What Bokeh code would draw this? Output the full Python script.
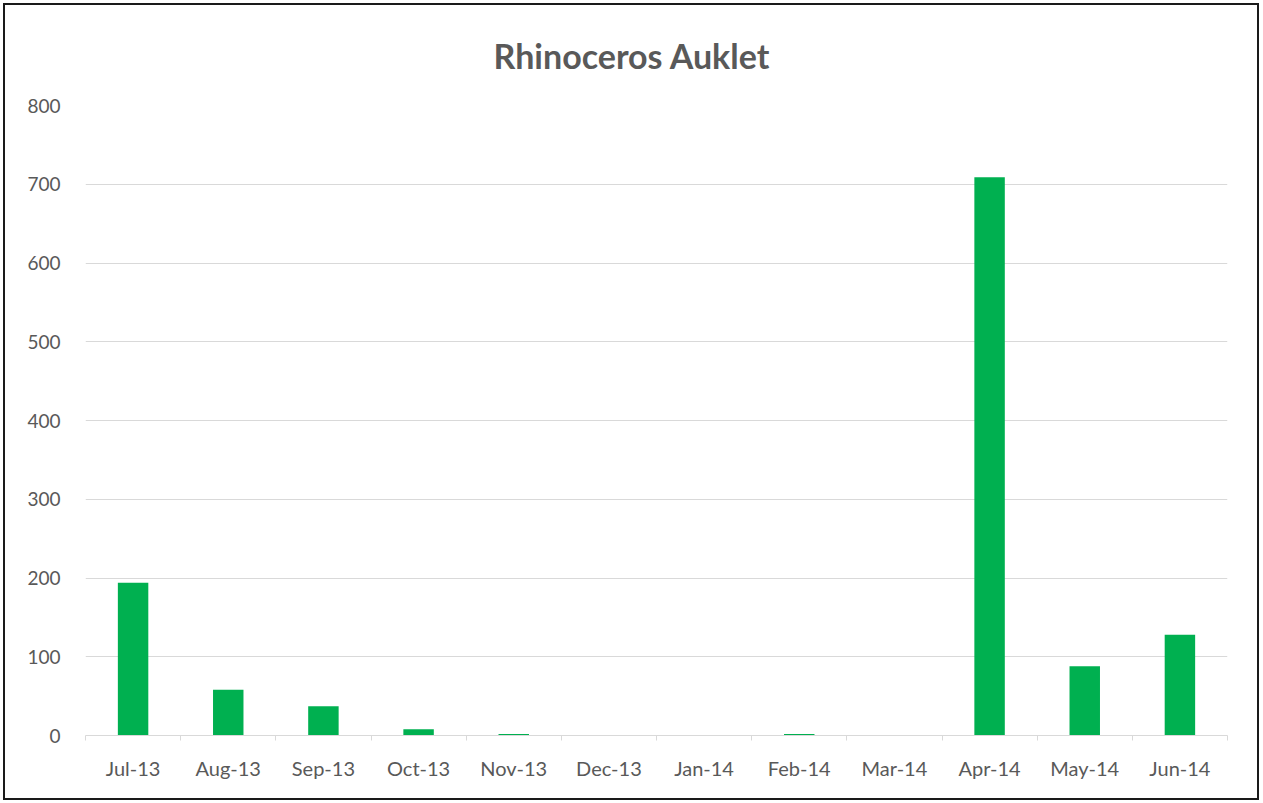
from bokeh.plotting import figure
from bokeh.models import (Range1d, LinearAxis, FixedTicker, Title, ColumnDataSource)
from bokeh.embed import file_html
from bokeh.resources import INLINE

months = ["Jul-13", "Aug-13", "Sep-13", "Oct-13", "Nov-13", "Dec-13",
          "Jan-14", "Feb-14", "Mar-14", "Apr-14", "May-14", "Jun-14"]
counts = [194, 58, 37, 8, 2, 0, 0, 2, 0, 709, 88, 128]
y_ticks = [0, 100, 200, 300, 400, 500, 600, 700, 800]
title_text = "Rhinoceros Auklet"

TEXT = "#595959"
FONT = "Lato"

n = len(months)
centers = [i + 0.5 for i in range(n)]
bounds = list(range(n + 1))

p = figure(x_range=Range1d(0, n), y_range=Range1d(0, 800),
           frame_width=1142, frame_height=630,
           min_border_left=80, min_border_right=30, min_border_top=100, min_border_bottom=63,
           output_backend="svg", toolbar_location=None,
           x_axis_location=None, y_axis_location="left")
p.styles = {"border": "2px solid #1a1a1a", "margin-left": "3px", "margin-top": "3px"}
p.outline_line_color = None
p.background_fill_color = "white"
p.border_fill_color = "white"

src = ColumnDataSource(dict(x=centers, c=counts, m=months))
p.vbar(x="x", top="c", width=0.32, source=src, fill_color="#00B050", line_color=None)

p.xgrid.grid_line_color = None
p.ygrid.grid_line_color = "#d9d9d9"
p.ygrid.grid_line_width = 1

ya = p.yaxis[0]
ya.ticker = FixedTicker(ticks=y_ticks)
ya.axis_line_color = None
ya.major_tick_line_color = None
ya.minor_tick_line_color = None
ya.major_label_text_color = TEXT
ya.major_label_text_font = FONT
ya.major_label_text_font_size = "19px"
ya.major_label_standoff = 19

xa = LinearAxis(ticker=FixedTicker(ticks=centers, minor_ticks=bounds),
                major_label_overrides={c: m for c, m in zip(centers, months)})
xa.axis_line_color = "#d9d9d9"
xa.major_tick_line_color = None
xa.minor_tick_line_color = "#d9d9d9"
xa.minor_tick_in = 0
xa.minor_tick_out = 5
xa.major_label_text_color = TEXT
xa.major_label_text_font = FONT
xa.major_label_text_font_size = "20px"
xa.major_label_standoff = 14
p.add_layout(xa, "below")

t = Title(text=title_text, align="left", offset=408, standoff=56,
          vertical_align="top",
          text_font=FONT, text_font_size="34px", text_font_style="bold",
          text_color=TEXT)
p.add_layout(t, "above")

open("out.html", "w").write(file_html(p, INLINE))
